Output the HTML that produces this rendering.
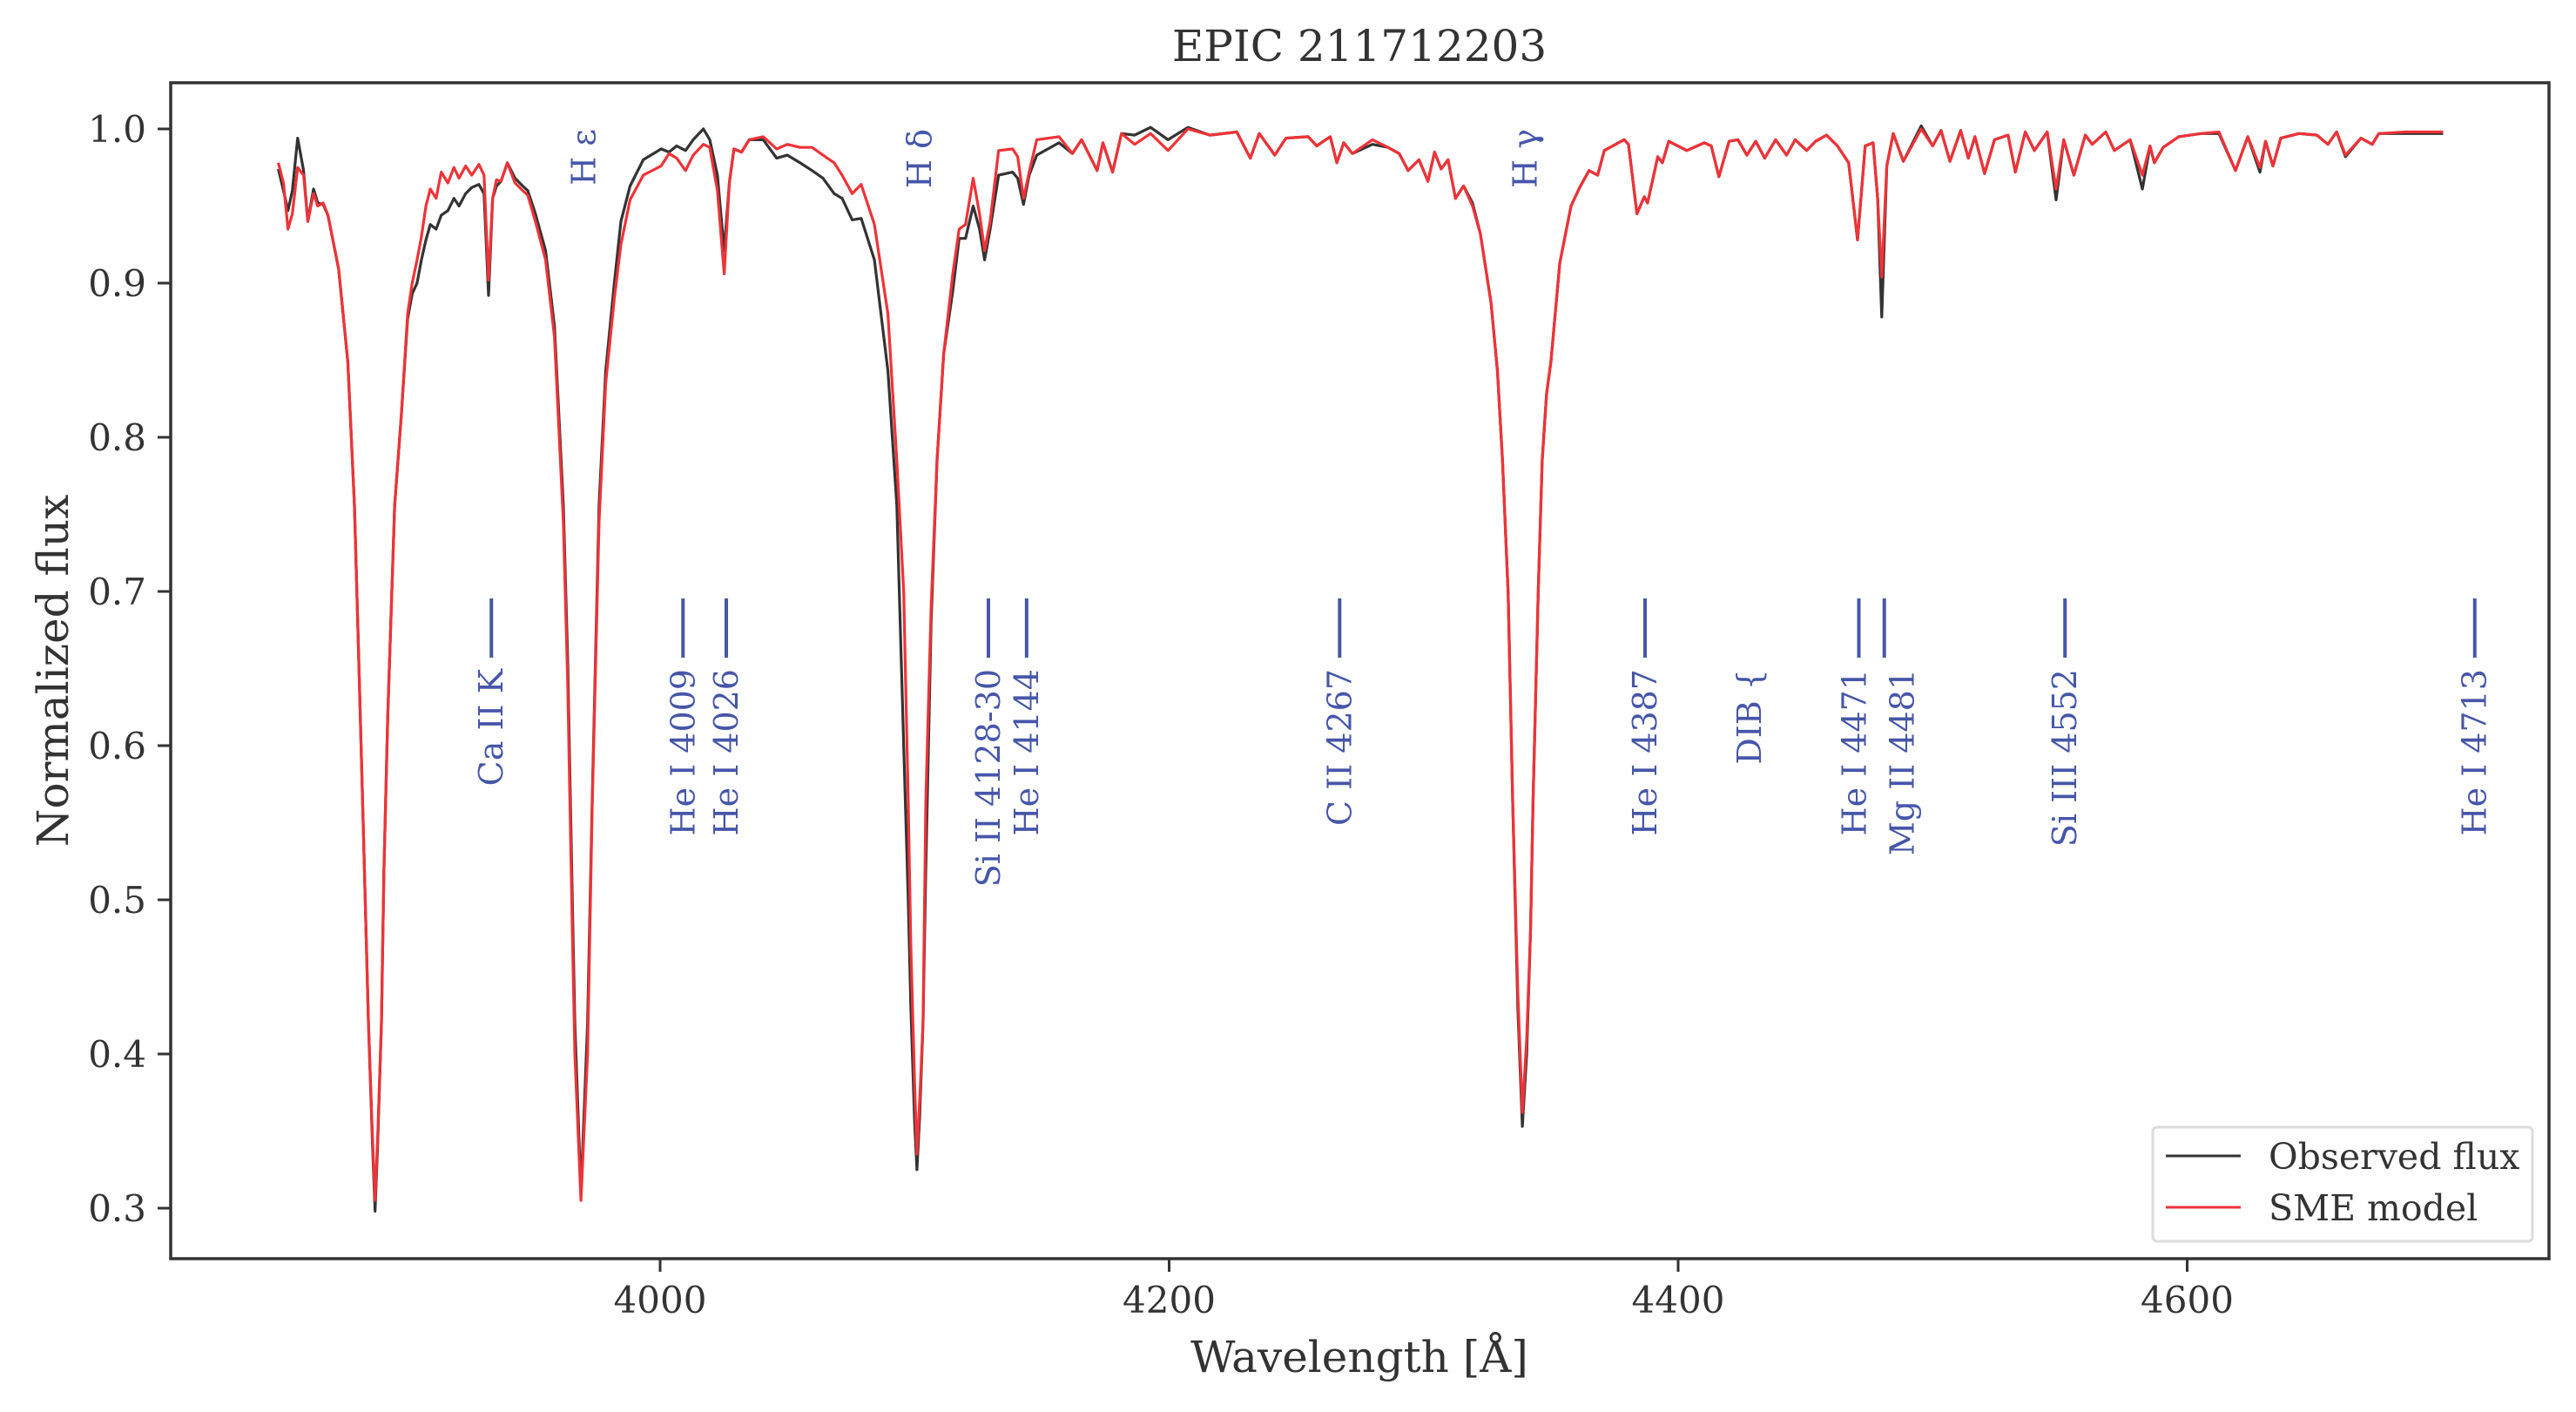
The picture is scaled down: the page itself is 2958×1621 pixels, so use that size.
<!DOCTYPE html>
<html><head><meta charset="utf-8">
<style>
html,body{margin:0;padding:0;background:#fff;}
svg{display:block;font-family:"DejaVu Serif","Liberation Serif",serif;}
</style></head>
<body>
<svg id="chart" xmlns="http://www.w3.org/2000/svg" width="2958" height="1621" viewBox="0 0 2958 1621">
<rect x="0" y="0" width="2958" height="1621" fill="#fff"/>
<text x="1561" y="70" font-size="50" fill="#333" text-anchor="middle">EPIC 211712203</text>
<g id="plot"></g>
<rect x="196" y="95" width="2731" height="1350" fill="none" stroke="#333" stroke-width="3.5"/>
<g id="xticks"></g><g id="yticks"></g>
<text x="1561" y="1575" font-size="50" fill="#333" text-anchor="middle">Wavelength [Å]</text>
<text x="0" y="0" font-size="50" fill="#333" text-anchor="middle" transform="translate(78,770) rotate(-90)">Normalized flux</text>
<g id="annots"></g>
<g>
<rect x="2472" y="1294" width="436" height="131" rx="5" fill="#fff" stroke="#dcdcdc" stroke-width="3"/>
<line x1="2487" y1="1327" x2="2573" y2="1327" stroke="#333" stroke-width="3"/>
<text x="2605" y="1342" font-size="41" fill="#333">Observed flux</text>
<line x1="2487" y1="1386" x2="2573" y2="1386" stroke="#ee3338" stroke-width="3"/>
<text x="2605" y="1401" font-size="41" fill="#333">SME model</text>
</g>
</svg>
<script>
const wavelengths=[3850,3852,3853.8,3855.5,3857.6,3859.9,3861.6,3863.8,3865.5,3867.6,3869.5,3873.7,3877.3,3879.9,3881.6,3883.5,3885.4,3887,3888,3889,3890.5,3891.5,3893,3895.7,3898.3,3900.8,3902.6,3904.5,3906.2,3908,3909.7,3912,3914,3916.6,3919,3921,3923.6,3926,3928.8,3930.8,3932.6,3934.2,3935.7,3937.5,3940,3943,3946,3948,3951,3955,3958.5,3962,3963.7,3965.5,3966.5,3968.9,3971.5,3973.3,3976,3978.6,3982,3984.6,3988.2,3993.4,4000.4,4003.5,4006.5,4010,4013,4017,4019.5,4022.5,4025.2,4027.2,4029,4032,4035,4040.5,4045.8,4050,4055,4059.7,4064,4068.4,4071.5,4075.5,4079,4084.2,4089.5,4093,4095.7,4097.5,4098.5,4100,4100.9,4102,4103.3,4104.4,4106.5,4108.8,4111.4,4115,4117.5,4120,4123,4125.5,4127.5,4129.7,4133,4138.5,4140.5,4142.8,4145,4148,4156.7,4162,4165.6,4171.7,4174,4177.8,4181.3,4186.5,4192.7,4199.6,4207.4,4216,4226.6,4231.9,4235.4,4241.5,4245.9,4254.6,4258,4263.3,4265.9,4268.6,4272,4279.9,4286,4290.4,4293.9,4298.2,4301.7,4304.3,4306.9,4309.6,4312.5,4315.7,4319.2,4322.3,4326.5,4329,4331,4333.2,4335,4337,4338.8,4340.5,4342,4343,4345,4346.6,4348.3,4350,4353.5,4357.9,4361.3,4365,4368.4,4371,4378.8,4380.5,4383.8,4386.7,4388,4392,4393.8,4396.3,4403.4,4410.3,4413,4416,4420,4423.5,4427,4430.5,4434,4438.3,4442.6,4446,4450.5,4454,4458.3,4462.6,4467,4470.5,4473.5,4476.6,4478.4,4480,4482,4484.5,4488.5,4495.5,4500,4503.3,4506.8,4511,4514,4516.6,4520.4,4524.3,4529.6,4532.5,4536.4,4540,4545,4548.5,4551.5,4555.5,4560,4562.7,4568,4571.4,4577.6,4582.4,4585.4,4587.1,4590.6,4596.7,4605.5,4612.5,4619,4623.8,4628.6,4630.8,4633.7,4636.8,4644,4651,4655.3,4658.7,4662.2,4668.3,4672.7,4675.3,4685.7,4700.6];
const observedFlux=[0.974,0.960,0.947,0.960,0.994,0.973,0.940,0.961,0.952,0.951,0.944,0.909,0.849,0.756,0.655,0.540,0.420,0.340,0.298,0.340,0.420,0.520,0.620,0.756,0.814,0.877,0.893,0.900,0.915,0.928,0.938,0.935,0.944,0.947,0.955,0.950,0.958,0.962,0.964,0.958,0.892,0.955,0.963,0.966,0.978,0.968,0.963,0.960,0.945,0.921,0.872,0.756,0.655,0.500,0.420,0.310,0.420,0.564,0.756,0.843,0.900,0.940,0.963,0.980,0.987,0.985,0.989,0.986,0.993,1.000,0.993,0.970,0.921,0.965,0.987,0.985,0.993,0.993,0.981,0.983,0.978,0.973,0.968,0.958,0.955,0.941,0.942,0.915,0.843,0.756,0.600,0.500,0.430,0.355,0.325,0.360,0.420,0.520,0.680,0.785,0.854,0.895,0.929,0.929,0.950,0.935,0.915,0.935,0.970,0.972,0.968,0.951,0.970,0.983,0.991,0.984,0.993,0.973,0.991,0.972,0.997,0.996,1.001,0.993,1.001,0.996,0.998,0.981,0.997,0.983,0.994,0.995,0.989,0.995,0.978,0.991,0.984,0.990,0.988,0.984,0.973,0.980,0.966,0.985,0.974,0.980,0.955,0.963,0.952,0.932,0.887,0.843,0.785,0.699,0.564,0.430,0.353,0.400,0.480,0.564,0.699,0.785,0.828,0.849,0.913,0.950,0.962,0.973,0.970,0.986,0.993,0.990,0.945,0.956,0.952,0.982,0.978,0.992,0.986,0.991,0.989,0.969,0.992,0.993,0.983,0.992,0.981,0.993,0.983,0.993,0.986,0.992,0.996,0.989,0.978,0.928,0.989,0.991,0.955,0.878,0.976,0.997,0.979,1.002,0.989,0.999,0.979,0.999,0.981,0.995,0.971,0.993,0.996,0.972,0.998,0.986,0.998,0.954,0.993,0.970,0.996,0.990,0.998,0.986,0.993,0.961,0.989,0.978,0.988,0.995,0.997,0.997,0.973,0.995,0.972,0.992,0.976,0.994,0.997,0.996,0.990,0.998,0.982,0.994,0.990,0.997,0.997,0.997];
const modelFlux=[0.978,0.965,0.935,0.945,0.975,0.970,0.940,0.958,0.950,0.952,0.944,0.909,0.849,0.756,0.655,0.540,0.420,0.345,0.305,0.345,0.420,0.520,0.620,0.756,0.814,0.880,0.900,0.915,0.930,0.950,0.961,0.955,0.972,0.965,0.975,0.968,0.976,0.970,0.977,0.970,0.902,0.955,0.967,0.966,0.978,0.965,0.960,0.957,0.940,0.915,0.865,0.745,0.640,0.480,0.400,0.305,0.400,0.560,0.745,0.835,0.890,0.925,0.954,0.970,0.976,0.984,0.981,0.973,0.983,0.990,0.988,0.960,0.906,0.965,0.987,0.985,0.993,0.995,0.987,0.990,0.988,0.988,0.983,0.978,0.970,0.958,0.964,0.938,0.880,0.785,0.700,0.564,0.470,0.380,0.335,0.370,0.420,0.564,0.690,0.785,0.854,0.906,0.935,0.938,0.968,0.945,0.921,0.940,0.986,0.987,0.982,0.955,0.972,0.993,0.995,0.984,0.993,0.973,0.991,0.972,0.997,0.990,0.997,0.986,1.000,0.996,0.998,0.981,0.997,0.983,0.994,0.995,0.989,0.995,0.978,0.991,0.984,0.993,0.988,0.984,0.973,0.980,0.966,0.985,0.974,0.980,0.955,0.963,0.950,0.932,0.887,0.843,0.785,0.699,0.564,0.440,0.362,0.410,0.480,0.564,0.699,0.785,0.828,0.849,0.913,0.950,0.962,0.973,0.970,0.986,0.993,0.990,0.945,0.956,0.952,0.982,0.978,0.992,0.986,0.991,0.989,0.969,0.992,0.993,0.983,0.992,0.981,0.993,0.983,0.993,0.986,0.992,0.996,0.989,0.978,0.928,0.989,0.991,0.955,0.904,0.976,0.997,0.979,1.000,0.989,0.999,0.979,0.999,0.981,0.995,0.971,0.993,0.996,0.972,0.998,0.986,0.998,0.961,0.993,0.970,0.996,0.990,0.998,0.986,0.993,0.970,0.989,0.978,0.988,0.995,0.997,0.998,0.973,0.995,0.975,0.992,0.976,0.994,0.997,0.996,0.990,0.998,0.983,0.994,0.990,0.997,0.998,0.998];
const xTickValues=[4000,4200,4400,4600];
const yTickValues=[0.3,0.4,0.5,0.6,0.7,0.8,0.9,1.0];
const yTickLabels=["0.3","0.4","0.5","0.6","0.7","0.8","0.9","1.0"];
const lineLabels=["Ca II K","He I 4009","He I 4026","Si II 4128-30","He I 4144","C II 4267","He I 4387","DIB {","He I 4471","Mg II 4481","Si III 4552","He I 4713"];
const lineWaves=[3933.7,4009,4026,4129,4144,4267,4387,4428,4471,4481,4552,4713];
const lineHasMarker=[1,1,1,1,1,1,1,0,1,1,1,1];
const balmerLabels=["H ε","H δ","H γ"];
const balmerWaves=[3970,4102,4340];

const NS="http://www.w3.org/2000/svg";
const X0=758, XS=2.9225, Y0=148, YS=1770;
function xScale(w){return X0+(w-4000)*XS;}
function yScale(v){return Y0+(1-v)*YS;}
function mk(tag,attrs,parent){const e=document.createElementNS(NS,tag);for(const k in attrs)e.setAttribute(k,attrs[k]);parent.appendChild(e);return e;}

const plot=document.getElementById('plot');
function linePath(vals){return vals.map((v,i)=>(i?'L':'M')+xScale(wavelengths[i]).toFixed(1)+' '+yScale(v).toFixed(1)).join(' ');}
const obs=mk('path',{d:linePath(observedFlux),fill:'none',stroke:'#333','stroke-width':3.2,'stroke-linejoin':'round'},plot);


const mod=mk('path',{d:linePath(modelFlux),fill:'none',stroke:'#ee3338','stroke-width':3.2,'stroke-linejoin':'round'},plot);



const xt=document.getElementById('xticks');
xTickValues.forEach(v=>{
  const x=xScale(v);
  const t=mk('line',{x1:x,y1:1445,x2:x,y2:1460,stroke:'#333','stroke-width':3},xt);
  
  
  const l=mk('text',{x:x,y:1507,'font-size':42,fill:'#333','text-anchor':'middle'},xt);
  l.textContent=v;
  
  
});
const yt=document.getElementById('yticks');
yTickValues.forEach((v,i)=>{
  const y=yScale(v);
  const t=mk('line',{x1:181,y1:y,x2:196,y2:y,stroke:'#333','stroke-width':3},yt);
  
  
  const l=mk('text',{x:168,y:y+15,'font-size':42,fill:'#333','text-anchor':'end'},yt);
  l.textContent=yTickLabels[i];
  
  
});
const an=document.getElementById('annots');
lineLabels.forEach((lab,i)=>{
  const x=xScale(lineWaves[i]);
  if(lineHasMarker[i]){
    const m=mk('line',{x1:x,y1:687,x2:x,y2:755,stroke:'#4656a8','stroke-width':4},an);
    
    
  }
  let off=13;
  if(lab.indexOf('4471')>=0) off=8;
  if(lab.indexOf('4481')>=0) off=34;
  const t=mk('text',{x:0,y:0,'font-size':38,fill:'#4656a8','text-anchor':'end',transform:'translate('+(x+off)+',768) rotate(-90)'},an);
  t.textContent=lab;
  
  
});
balmerLabels.forEach((lab,i)=>{
  const x=xScale(balmerWaves[i]);
  const t=mk('text',{x:0,y:0,'font-size':38,fill:'#4656a8','text-anchor':'end',transform:'translate('+(x+13)+',148) rotate(-90)'},an);
  t.textContent=lab;
  
  
});
</script>
</body></html>
